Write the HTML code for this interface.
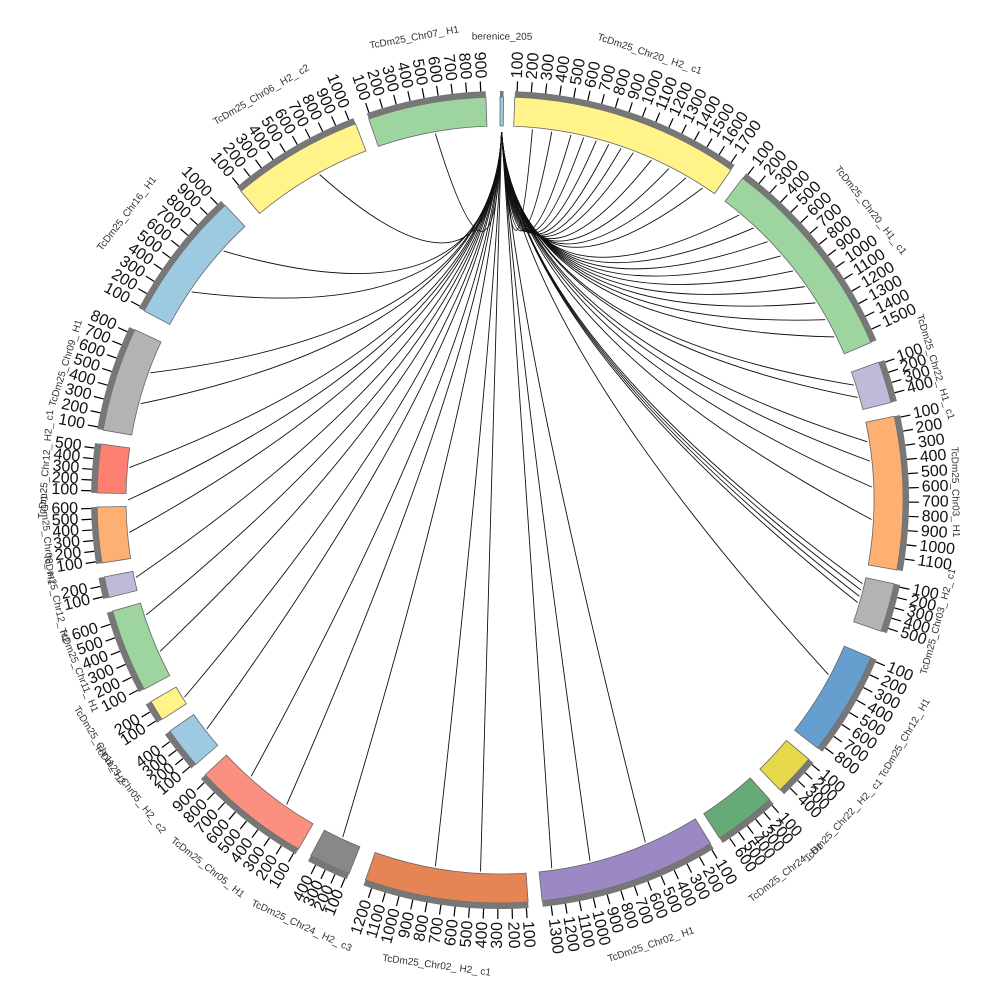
<!DOCTYPE html>
<html><head><meta charset="utf-8"><style>
html,body{margin:0;padding:0;background:#fff;}
svg{display:block;}
text{font-family:"Liberation Sans",sans-serif;}
</style></head><body>
<svg id="s" width="1000" height="1000" viewBox="0 0 1000 1000" xmlns="http://www.w3.org/2000/svg"></svg>
<script>
const S=document.getElementById('s');const C=500,R1=374,R2=403,R3=409;
const NS='http://www.w3.org/2000/svg';
function el(t,a,p){const e=document.createElementNS(NS,t);for(const k in a)e.setAttribute(k,a[k]);(p||S).appendChild(e);return e;}
function pt(a,r){const t=a*Math.PI/180;return [C+r*Math.sin(t),C-r*Math.cos(t)];}
const segs=[
['berenice_205',0,0.5,'#9ecae1'],
['TcDm25_Chr20_H2_c1',2.1,35,'#fff38a'],
['TcDm25_Chr20_H1_c1',37,67,'#9dd4a0'],
['TcDm25_Chr22_H1_c1',70,76,'#bebada'],
['TcDm25_Chr03_H1',78,100,'#fdb072'],
['TcDm25_Chr03_H2_c1',102,109,'#b3b3b3'],
['TcDm25_Chr12_H1',113,128,'#659ecf'],
['TcDm25_Chr22_H2_c1',130,136,'#e5d84a'],
['TcDm25_Chr24_H1',138,147,'#66aa77'],
['TcDm25_Chr02_H1',148.5,174,'#9b88c4'],
['TcDm25_Chr02_H2_c1',176,199.5,'#e58555'],
['TcDm25_Chr24_H2_c3',202,208,'#888888'],
['TcDm25_Chr05_H1',210,227,'#fb9080'],
['TcDm25_Chr05_H2_c2',229,235,'#9ecae1'],
['TcDm25_Chr11_H2',237,240,'#fff38a'],
['TcDm25_Chr11_H1',242,254,'#9dd4a0'],
['TcDm25_Chr12_H2',256,259,'#bebada'],
['TcDm25_Chr08_H1',261,269,'#fdb072'],
['TcDm25_Chr12_H2_c1',271,278,'#fb8072'],
['TcDm25_Chr09_H1',280,295,'#b3b3b3'],
['TcDm25_Chr16_H1',298,317,'#9ecae1'],
['TcDm25_Chr06_H2_c2',320,339,'#fff38a'],
['TcDm25_Chr07_H1',341,358,'#9dd4a0']];
function arc(a1,a2,r1,r2,f,st){const p1=pt(a1,r2),p2=pt(a2,r2),p3=pt(a2,r1),p4=pt(a1,r1);const l=(a2-a1)>180?1:0;
el('path',{d:`M${p1}A${r2},${r2} 0 ${l} 1 ${p2}L${p3}A${r1},${r1} 0 ${l} 0 ${p4}Z`,fill:f,stroke:st||'none','stroke-width':0.8});}
const tg=[5,8,11,13,15,17,19,21,24,27,30,33,40,43,46,49,52,55,58,61,64,72,74,81,84,88,93,103,104,105,106,118,157,166,172,183,190,205,215,222,232,238,246,252,258,265,270,275,285,290,304,312,331,350];
tg.forEach((a,i)=>{const s=pt(0.25,R1-6),t=pt(a,R1-2);const c=[a<180?515:495,330];
el('path',{d:`M${s}Q${c} ${t}`,fill:'none',stroke:'#111','stroke-width':0.9});});
segs.forEach(([n,a1,a2,f],i)=>{arc(a1,a2,R1,R2,f,'#666');arc(a1,a2,R2,R3,'#777');
 if(i==0)return;
 const step=(a2-a1)>10?2:1.5;let k=1;
 for(let a=a1+0.3;a<=a2;a+=step,k++){const p=pt(a,R3),q=pt(a,R3+10);el('line',{x1:p[0],y1:p[1],x2:q[0],y2:q[1],stroke:'#000','stroke-width':1.2});
  const r=pt(a,R3+13);const rot=a<180?a-90:a+90;const anc=a<180?'start':'end';
  const tx=el('text',{x:r[0],y:r[1],'font-size':16,'text-anchor':anc,'dominant-baseline':'middle',transform:`rotate(${rot} ${r[0]} ${r[1]})`,fill:'#111'});tx.textContent=(k*100);}
});
segs.forEach(([n,a1,a2],i)=>{const a=(a1+a2)/2;const r=i==0?463:(a>60&&a<120||a>240&&a<300?455:470);const p=pt(a,r);
 let rot=a; if(a>90&&a<270)rot=a-180;
 const tx=el('text',{x:p[0],y:p[1],'font-size':10,'text-anchor':'middle','dominant-baseline':'middle',transform:`rotate(${rot} ${p[0]} ${p[1]})`,fill:'#333'});tx.textContent=n.replace(/_/g,'_ ').replace('_ ','_');});
</script>
</body></html>
